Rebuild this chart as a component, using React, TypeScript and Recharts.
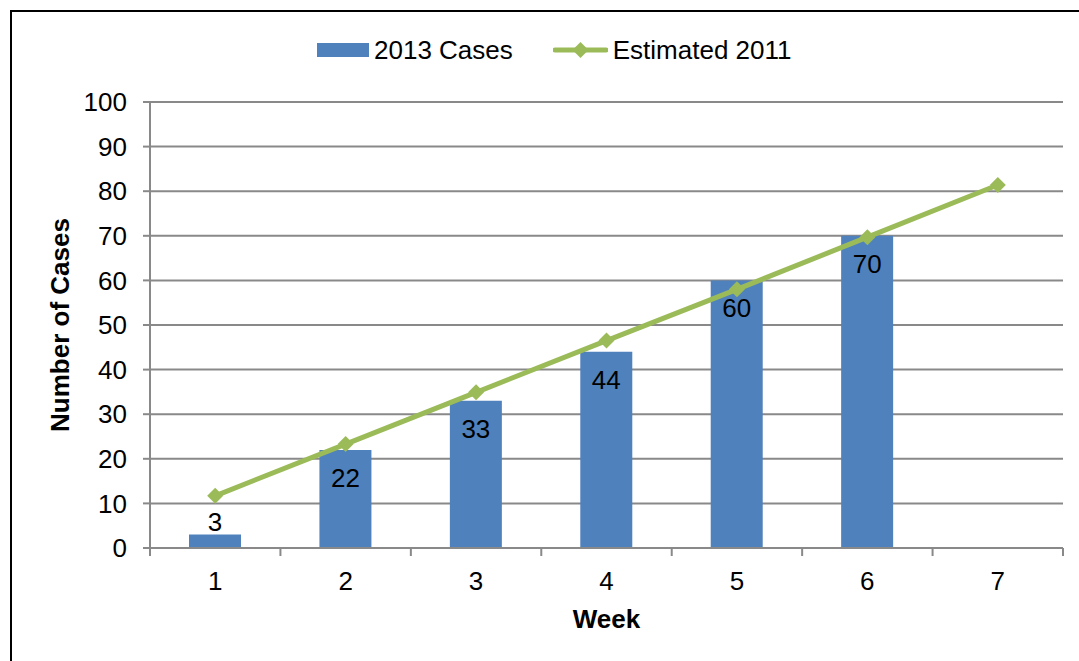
import React from 'react';
import { ComposedChart, Bar, Line, XAxis, YAxis, CartesianGrid, Legend, LabelList } from 'recharts';

const weeks = ['1', '2', '3', '4', '5', '6', '7'];
const cases2013: (number | null)[] = [3, 22, 33, 44, 60, 70, null];
const estimated2011 = [11.7, 23.3, 34.9, 46.5, 58.0, 69.7, 81.4];
const yTicks = [0, 10, 20, 30, 40, 50, 60, 70, 80, 90, 100];

const data = weeks.map((w, i) => ({ week: w, cases: cases2013[i], est: estimated2011[i] }));

const BLUE = '#4F81BD';
const GREEN = '#9BBB59';
const GRAY = '#898989';
const FONT = '"Liberation Sans", Arial, Helvetica, sans-serif';

const XTick = (props: any) => {
  const { x, y, payload, index } = props;
  const half = payload && typeof payload.offset === 'number' && payload.offset > 0 ? payload.offset : 913 / 14;
  const isLast = index === weeks.length - 1;
  return (
    <g>
      <line x1={x - half} x2={x - half} y1={y} y2={y + 8} stroke={GRAY} strokeWidth={2} />
      {isLast && <line x1={x + half} x2={x + half} y1={y} y2={y + 8} stroke={GRAY} strokeWidth={2} />}
      <text x={x} y={y + 41.5} textAnchor="middle" fontSize={26} fill="#000" fontFamily={FONT}>
        {payload.value}
      </text>
    </g>
  );
};

const BarLabel = (props: any) => {
  const { x, y, width, height, value } = props;
  if (value === null || value === undefined) return null;
  const nx = Number(x);
  const ny = Number(y);
  const w = Number(width);
  const h = Number(height);
  const inside = h > 40;
  return (
    <text x={nx + w / 2} y={inside ? ny + 37 : ny - 4} textAnchor="middle" fontSize={26} fill="#000" fontFamily={FONT}>
      {value}
    </text>
  );
};

const Diamond = (props: any) => {
  const { cx, cy } = props;
  if (cx == null || cy == null) return null;
  return <path d={`M${cx},${cy - 8}L${cx + 8},${cy}L${cx},${cy + 8}L${cx - 8},${cy}Z`} fill={GREEN} />;
};

const LegendContent = (props: any) => {
  const payload = props.payload || [];
  return (
    <div style={{ position: 'relative', width: 1079, height: 80 }}>
      <div
        style={{
          position: 'absolute',
          left: 317,
          top: 36.5,
          display: 'flex',
          alignItems: 'center',
          fontSize: 26,
          lineHeight: '26px',
          color: '#000',
          whiteSpace: 'nowrap',
          fontFamily: FONT,
        }}
      >
        {payload.map((entry: any, i: number) =>
          entry.type === 'rect' ? (
            <React.Fragment key={i}>
              <span style={{ display: 'inline-block', width: 52, height: 14, background: BLUE, marginRight: 5 }} />
              <span>{entry.value}</span>
            </React.Fragment>
          ) : (
            <React.Fragment key={i}>
              <svg width={55} height={18} style={{ marginLeft: 40, marginRight: 5, display: 'block' }}>
                <line x1={2} x2={53} y1={9} y2={9} stroke={GREEN} strokeWidth={5} strokeLinecap="round" />
                <path d="M27.5,1L35.5,9L27.5,17L19.5,9Z" fill={GREEN} />
              </svg>
              <span>{entry.value}</span>
            </React.Fragment>
          )
        )}
      </div>
    </div>
  );
};

export default function App() {
  return (
    <div
      style={{
        position: 'absolute',
        left: 0,
        top: 0,
        width: 1079,
        height: 661,
        overflow: 'hidden',
        background: '#fff',
        fontFamily: FONT,
      }}
    >
      <div
        style={{
          position: 'absolute',
          left: 10,
          top: 10,
          width: 1200,
          height: 800,
          border: '2px solid #000',
        }}
      />
      <div style={{ position: 'absolute', left: 0, top: 0 }}>
        <ComposedChart
          width={1079}
          height={661}
          data={data}
          margin={{ top: 102, right: 16, bottom: 0, left: 0 }}
          style={{ fontFamily: FONT }}
        >
          <CartesianGrid vertical={false} stroke={GRAY} strokeWidth={2} />
          <XAxis
            dataKey="week"
            type="category"
            height={113}
            axisLine={{ stroke: GRAY, strokeWidth: 2 }}
            tickLine={false}
            tickSize={0}
            tickMargin={0}
            interval={0}
            tick={<XTick />}
            label={{
              value: 'Week',
              position: 'insideTop',
              offset: 61.5,
              style: { fontSize: 26, fontWeight: 'bold', fill: '#000', fontFamily: FONT },
            }}
          />
          <YAxis
            type="number"
            domain={[0, 100]}
            ticks={yTicks}
            interval={0}
            width={150}
            axisLine={{ stroke: GRAY, strokeWidth: 2 }}
            tickLine={{ stroke: GRAY, strokeWidth: 2 }}
            tickSize={7}
            tickMargin={16}
            tick={{ fontSize: 26, fill: '#000', fontFamily: FONT }}
            label={{
              value: 'Number of Cases',
              angle: -90,
              position: 'insideLeft',
              offset: 60,
              style: { fontSize: 26, fontWeight: 'bold', fill: '#000', textAnchor: 'middle', fontFamily: FONT },
            }}
          />
          <Legend
            layout="horizontal"
            verticalAlign="middle"
            align="center"
            wrapperStyle={{ top: 0, left: 0, width: 1079, height: 80 }}
            content={<LegendContent />}
          />
          <Bar dataKey="cases" name="2013 Cases" fill={BLUE} barSize={52} isAnimationActive={false} legendType="rect">
            <LabelList dataKey="cases" content={<BarLabel />} />
          </Bar>
          <Line
            dataKey="est"
            name="Estimated 2011"
            stroke={GREEN}
            strokeWidth={5}
            dot={<Diamond />}
            activeDot={false}
            isAnimationActive={false}
            legendType="line"
          />
        </ComposedChart>
      </div>
    </div>
  );
}
